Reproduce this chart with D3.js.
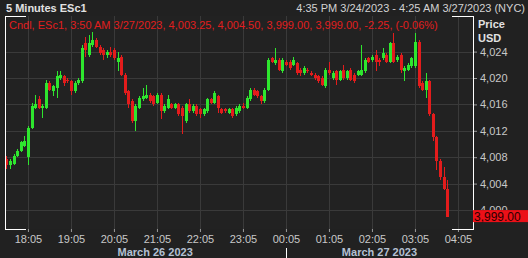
<!DOCTYPE html>
<html>
<head>
<meta charset="utf-8">
<script src="https://cdn.jsdelivr.net/npm/d3@7"></script>
<style>
  body { margin: 0; background: #212121; }
  svg { display: block; font-family: "Liberation Sans", Arial, sans-serif; }
</style>
</head>
<body>
<svg id="chart" width="528" height="258"></svg>
<script>
// 5 minute candles, 16:35 Fri (index 0) .. 03:50 Mon (index 123)
const opens = [
  4007.75, 4006.75, 4007.0, 4008.25, 4009.0, 4009.75, 4008.0, 4012.5, 4015.5, 4016.75,
  4015.5, 4015.5, 4019.25, 4018.0, 4018.5, 4020.0, 4020.25, 4019.75, 4019.5, 4018.0,
  4019.25, 4019.5, 4025.25, 4023.5, 4025.0, 4025.75, 4024.75, 4024.25, 4023.5, 4024.0,
  4024.25, 4022.5, 4023.25, 4020.5, 4018.0, 4016.5, 4013.5, 4015.5, 4016.75, 4017.0,
  4017.5, 4017.25, 4016.25, 4017.5, 4015.0, 4015.5, 4016.0, 4015.5, 4016.0, 4015.5,
  4013.5, 4016.0, 4015.0, 4015.75, 4015.25, 4014.5, 4015.0, 4016.75, 4016.25, 4017.25,
  4015.25, 4015.25, 4014.75, 4015.25, 4014.5, 4015.0, 4015.75, 4015.5, 4016.75, 4018.25,
  4018.0, 4017.25, 4016.5, 4018.25, 4023.0, 4022.25, 4022.75, 4021.0, 4022.5, 4022.5,
  4022.0, 4022.25, 4021.25, 4020.75, 4021.25, 4020.75, 4020.5, 4020.25, 4020.0, 4018.75,
  4021.25, 4020.0, 4021.0, 4019.75, 4021.25, 4020.0, 4021.25, 4020.5, 4020.5, 4020.5,
  4021.0, 4023.0, 4022.75, 4023.5, 4022.75, 4023.0, 4023.5, 4022.5, 4025.25, 4022.75,
  4023.5, 4021.0, 4021.25, 4021.75, 4021.75, 4025.5, 4019.25, 4018.25, 4019.5, 4014.5,
  4011.0, 4007.5, 4005.0, 4003.25
];
const highs = [
  4008.25, 4007.75, 4008.5, 4009.25, 4010.5, 4011.25, 4012.75, 4016.25, 4017.5, 4017.25,
  4016.0, 4019.75, 4019.5, 4019.0, 4021.0, 4021.0, 4020.5, 4020.0, 4019.75, 4019.5,
  4020.0, 4025.0, 4026.25, 4026.5, 4027.0, 4026.0, 4025.0, 4024.5, 4024.25, 4024.75,
  4024.5, 4024.0, 4023.5, 4020.75, 4018.25, 4016.75, 4016.0, 4017.25, 4018.5, 4019.0,
  4017.75, 4017.5, 4017.75, 4017.75, 4016.0, 4017.5, 4016.25, 4016.25, 4016.25, 4015.75,
  4016.25, 4016.75, 4016.0, 4016.0, 4015.5, 4015.5, 4017.0, 4017.0, 4018.0, 4017.5,
  4015.5, 4015.5, 4015.5, 4015.5, 4015.75, 4016.0, 4016.25, 4017.25, 4018.5, 4018.5,
  4018.25, 4017.5, 4018.5, 4023.0, 4023.25, 4024.5, 4023.0, 4023.0, 4022.75, 4022.75,
  4023.25, 4022.5, 4021.5, 4021.75, 4021.5, 4021.0, 4020.75, 4020.5, 4020.25, 4021.5,
  4022.5, 4021.0, 4021.25, 4021.25, 4022.0, 4021.25, 4021.5, 4020.75, 4021.25, 4025.0,
  4023.0, 4023.25, 4023.5, 4024.25, 4023.0, 4024.5, 4023.75, 4025.5, 4026.75, 4023.5,
  4023.75, 4021.75, 4022.25, 4023.25, 4026.75, 4025.75, 4019.5, 4020.75, 4019.75, 4014.75,
  4011.25, 4007.75, 4006.5, 4004.5
];
const lows = [
  4006.25, 4006.25, 4006.75, 4008.0, 4008.75, 4009.5, 4006.75, 4012.25, 4015.25, 4015.25,
  4014.0, 4015.25, 4018.0, 4017.25, 4017.0, 4019.75, 4018.75, 4019.25, 4017.5, 4017.75,
  4019.0, 4019.25, 4023.25, 4023.25, 4024.75, 4024.5, 4023.5, 4022.75, 4023.0, 4023.25,
  4022.75, 4021.0, 4020.25, 4017.5, 4015.5, 4013.25, 4012.0, 4015.25, 4016.5, 4016.75,
  4016.25, 4015.75, 4016.0, 4013.75, 4014.75, 4015.25, 4015.25, 4015.25, 4014.25, 4011.5,
  4013.25, 4014.75, 4014.75, 4014.25, 4014.0, 4014.25, 4014.75, 4016.0, 4016.0, 4014.75,
  4014.5, 4014.75, 4014.5, 4014.0, 4014.25, 4014.75, 4015.25, 4015.25, 4016.5, 4017.25,
  4017.0, 4016.0, 4016.25, 4018.0, 4022.25, 4022.0, 4021.0, 4020.75, 4021.75, 4021.25,
  4021.75, 4020.5, 4020.25, 4020.5, 4020.75, 4020.25, 4019.75, 4019.25, 4018.75, 4018.5,
  4020.5, 4019.75, 4019.0, 4019.5, 4019.75, 4019.75, 4019.5, 4019.25, 4020.25, 4020.25,
  4020.75, 4022.25, 4022.5, 4021.0, 4021.75, 4022.75, 4022.25, 4022.25, 4022.25, 4022.5,
  4020.75, 4019.5, 4021.0, 4021.5, 4021.5, 4018.5, 4018.0, 4017.0, 4014.25, 4010.5,
  4006.0, 4004.5, 4003.0, 3999.0
];
const closes = [
  4006.75, 4007.5, 4008.25, 4009.0, 4010.25, 4010.5, 4012.5, 4015.75, 4016.0, 4015.5,
  4015.75, 4019.25, 4018.25, 4018.75, 4020.25, 4020.5, 4019.25, 4019.5, 4018.0, 4019.25,
  4019.75, 4024.5, 4024.25, 4025.25, 4025.75, 4024.75, 4023.75, 4023.5, 4024.0, 4023.5,
  4023.0, 4023.0, 4020.5, 4017.75, 4016.0, 4013.5, 4015.75, 4017.0, 4017.25, 4017.5,
  4016.5, 4016.0, 4017.5, 4015.0, 4015.75, 4016.75, 4015.5, 4016.0, 4014.5, 4014.25,
  4016.0, 4015.0, 4015.75, 4014.5, 4014.5, 4015.25, 4016.75, 4016.25, 4017.75, 4015.5,
  4014.75, 4015.0, 4015.25, 4014.25, 4015.5, 4015.75, 4015.5, 4017.0, 4018.25, 4017.5,
  4017.25, 4016.5, 4018.25, 4022.75, 4022.5, 4022.75, 4021.25, 4022.75, 4022.0, 4021.5,
  4022.75, 4020.75, 4020.75, 4021.5, 4021.0, 4020.5, 4020.0, 4019.5, 4019.0, 4021.25,
  4020.75, 4020.75, 4019.75, 4021.0, 4020.0, 4021.0, 4019.75, 4019.5, 4021.0, 4021.25,
  4022.75, 4022.5, 4023.25, 4022.5, 4022.5, 4023.75, 4022.5, 4025.25, 4022.5, 4023.25,
  4021.25, 4021.5, 4022.0, 4023.0, 4025.5, 4018.75, 4018.25, 4019.5, 4014.5, 4011.0,
  4007.5, 4005.0, 4003.25, 3999.0
];

const timeTicks = ["18:05", "19:05", "20:05", "21:05", "22:05", "23:05",
                   "00:05", "01:05", "02:05", "03:05", "04:05"];
const timeTickIndex = [6, 18, 30, 42, 54, 66, 78, 90, 102, 114, 126];
const priceTicks = [4000, 4004, 4008, 4012, 4016, 4020, 4024];
const dayLabels = ["March 26 2023", "March 27 2023"];
const dayStartIndex = [5, 78];

const title = "5 Minutes ESc1";
const range = "4:35 PM 3/24/2023 - 4:25 AM 3/27/2023 (NYC)";
const legend = "Cndl, ESc1, 3:50 AM 3/27/2023, 4,003.25, 4,004.50, 3,999.00, 3,999.00, -2.25, (-0.06%)";

const plot = { left: 5, right: 473, top: 16, bottom: 229 };
const upColor = "#2ee62e";
const downColor = "#e31c1c";
const gridColor = "#3a3a3a";

const svg = d3.select("#chart");
const candles = opens.map((o, i) => ({ i, o, h: highs[i], l: lows[i], c: closes[i] }));

const x = d3.scaleLinear().domain([-0.4, 130.2]).range([plot.left, plot.right]);
const y = d3.scaleLinear().domain([4000, 4024]).range([210, 51.6]);
const last = candles[candles.length - 1];
const boxTop = y(last.c) - 6.5;

// background
svg.append("rect").attr("width", 528).attr("height", 258).attr("fill", "#212121");
svg.append("rect")
    .attr("x", plot.left).attr("y", plot.top)
    .attr("width", plot.right - plot.left).attr("height", plot.bottom - plot.top)
    .attr("fill", "#222222");

// grid
svg.append("g").selectAll("line")
    .data(priceTicks)
    .enter().append("line")
    .attr("x1", plot.left).attr("x2", plot.right)
    .attr("y1", d => Math.round(y(d)) + 0.5).attr("y2", d => Math.round(y(d)) + 0.5)
    .attr("stroke", gridColor);

svg.append("g").selectAll("line")
    .data(timeTickIndex.filter(d => x(d) < plot.right))
    .enter().append("line")
    .attr("x1", d => Math.round(x(d)) + 0.5).attr("x2", d => Math.round(x(d)) + 0.5)
    .attr("y1", plot.top).attr("y2", plot.bottom)
    .attr("stroke", gridColor);

// candles
const cg = svg.append("g").attr("shape-rendering", "crispEdges");
cg.selectAll("line.wick")
    .data(candles)
    .enter().append("line")
    .attr("class", "wick")
    .attr("x1", d => Math.round(x(d.i)) + 0.5).attr("x2", d => Math.round(x(d.i)) + 0.5)
    .attr("y1", d => y(d.h)).attr("y2", d => y(d.l))
    .attr("stroke", d => d.c >= d.o ? upColor : downColor);

cg.selectAll("rect.body")
    .data(candles)
    .enter().append("rect")
    .attr("class", "body")
    .attr("x", d => Math.round(x(d.i)) - 1)
    .attr("width", 3)
    .attr("y", d => y(Math.max(d.o, d.c)))
    .attr("height", d => Math.max(1, Math.abs(y(d.o) - y(d.c))))
    .attr("fill", d => d.c >= d.o ? upColor : downColor);

// price axis (labels clipped above the last price box, like the original)
svg.append("clipPath").attr("id", "axisClip")
    .append("rect").attr("x", plot.right).attr("y", 0).attr("width", 60).attr("height", boxTop);
const yAxis = svg.append("g")
    .attr("clip-path", "url(#axisClip)")
    .append("g")
    .attr("transform", `translate(${plot.right},0)`)
    .call(d3.axisRight(y).tickValues(priceTicks).tickFormat(d3.format(",")).tickSize(4).tickPadding(3));
yAxis.select(".domain").remove();
yAxis.selectAll("line").attr("stroke", "#9a9a9a");
yAxis.selectAll("text").attr("fill", "#c8c8c8").style("font-size", "11px").style("font-family", "inherit");

// time axis
const xAxis = svg.append("g")
    .attr("transform", `translate(0,${plot.bottom})`)
    .call(d3.axisBottom(x).tickValues(timeTickIndex).tickFormat((d, i) => timeTicks[i]).tickSize(3).tickPadding(3));
xAxis.select(".domain").remove();
xAxis.selectAll("line").attr("stroke", "#9a9a9a");
xAxis.selectAll("text").attr("fill", "#c8c8c8").style("font-size", "11px").style("font-family", "inherit");

// day labels
const dayEnds = [dayStartIndex[1], x.invert(plot.right)];
svg.append("g").selectAll("text")
    .data(dayLabels)
    .enter().append("text")
    .attr("x", (d, i) => (x(dayStartIndex[i]) + x(dayEnds[i])) / 2)
    .attr("y", 256)
    .attr("text-anchor", "middle")
    .attr("fill", "#b4c0d2")
    .style("font-size", "11px")
    .style("font-weight", "bold")
    .text(d => d);

svg.append("line")
    .attr("x1", Math.round(x(dayStartIndex[1])) + 0.5).attr("x2", Math.round(x(dayStartIndex[1])) + 0.5)
    .attr("y1", 248).attr("y2", 258)
    .attr("stroke", "#ffffff");

// frame brackets
const frame = svg.append("g").attr("stroke", "#ffffff").attr("fill", "none").attr("shape-rendering", "crispEdges");
frame.append("path").attr("d", `M${plot.left + 21},${plot.top + 0.5}H${plot.left + 0.5}V${plot.bottom + 0.5}H${plot.left + 21}`);
frame.append("path").attr("d", `M${plot.right - 21},${plot.top + 0.5}H${plot.right + 0.5}V${plot.bottom + 0.5}H${plot.right - 21}`);

// last price box
svg.append("rect")
    .attr("x", plot.right).attr("y", boxTop)
    .attr("width", 528 - plot.right).attr("height", 12)
    .attr("fill", "#ec1018");
svg.append("text")
    .attr("x", plot.right + 1).attr("y", y(last.c) + 4.5)
    .attr("fill", "#2a0000")
    .style("font-size", "12px")
    .text(d3.format(",.2f")(last.c));

// header texts
svg.append("text")
    .attr("x", 6).attr("y", 12)
    .attr("fill", "#e2e2e2")
    .style("font-size", "11px").style("font-weight", "bold")
    .text(title);
svg.append("text")
    .attr("x", 525).attr("y", 12)
    .attr("text-anchor", "end")
    .attr("fill", "#d2d2d2")
    .style("font-size", "11px")
    .text(range);
svg.append("text")
    .attr("x", 9).attr("y", 29)
    .attr("fill", "#e01e1e")
    .style("font-size", "11px")
    .text(legend);
svg.append("text")
    .attr("x", 478).attr("y", 28)
    .attr("fill", "#e2e2e2")
    .style("font-size", "11px").style("font-weight", "bold")
    .text("Price");
svg.append("text")
    .attr("x", 478).attr("y", 42)
    .attr("fill", "#e2e2e2")
    .style("font-size", "11px").style("font-weight", "bold")
    .text("USD");
</script>
</body>
</html>
